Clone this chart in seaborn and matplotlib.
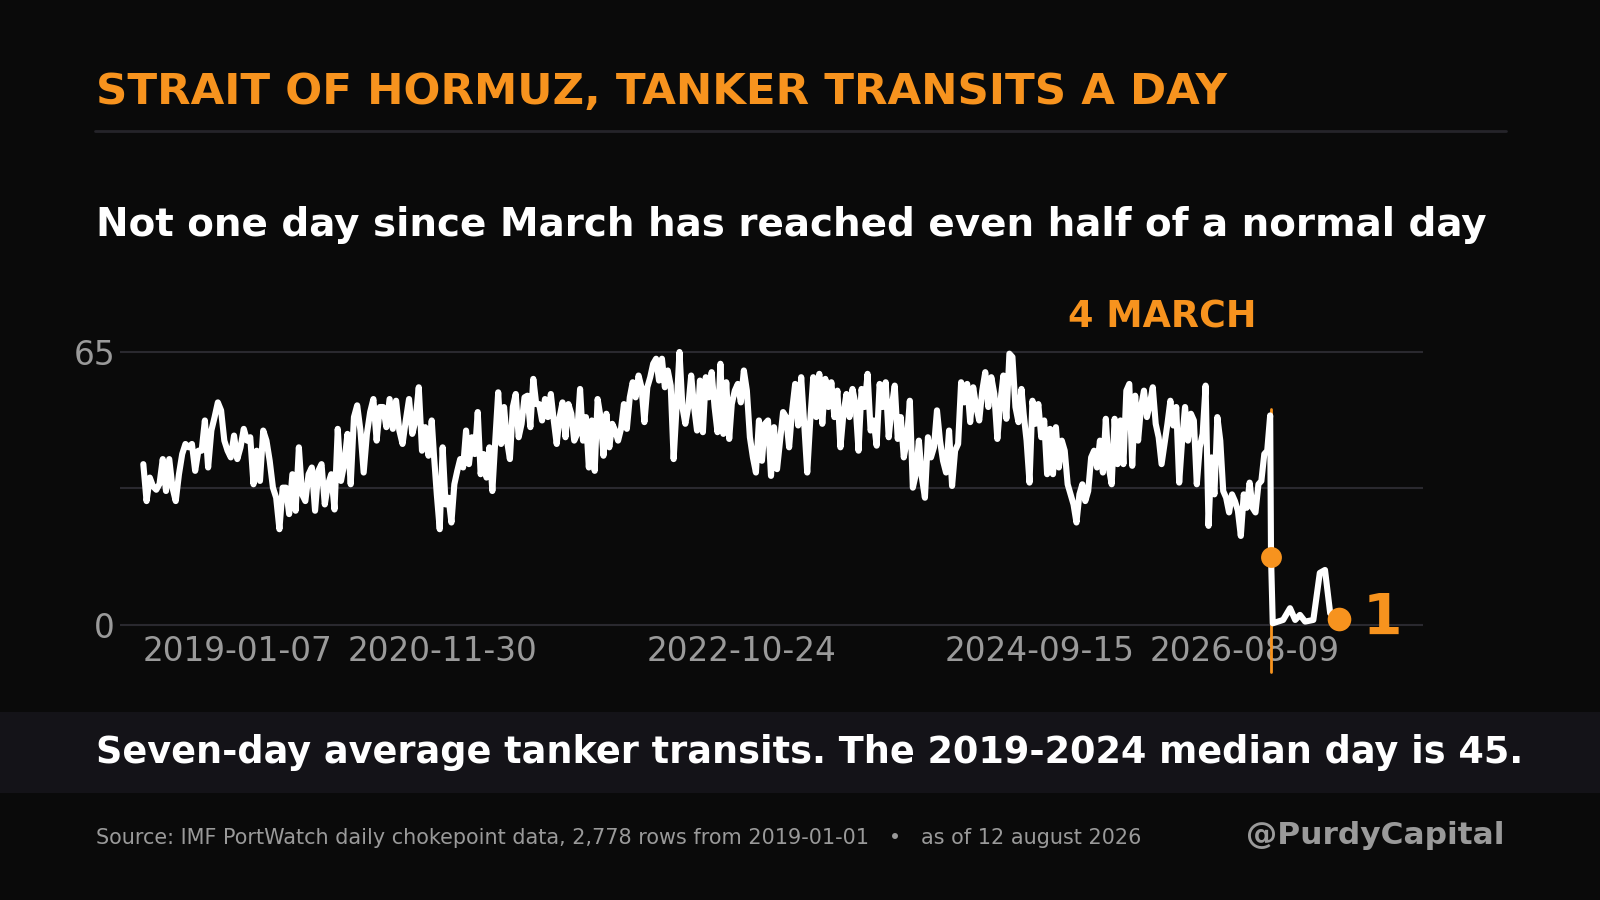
import matplotlib
matplotlib.use("Agg")
import matplotlib.pyplot as plt
from matplotlib.lines import Line2D
from matplotlib.patches import Rectangle
import numpy as np
import pandas as pd
import seaborn as sns

# ---------------- text ----------------
TITLE = "STRAIT OF HORMUZ, TANKER TRANSITS A DAY"
SUBTITLE = "Not one day since March has reached even half of a normal day"
NOTE = "Seven-day average tanker transits. The 2019-2024 median day is 45."
SOURCE = ("Source: IMF PortWatch daily chokepoint data, 2,778 rows from 2019-01-01"
          "   \u2022   as of 12 august 2026")
HANDLE = "@PurdyCapital"
EVENT_LABEL = "4 MARCH"
LAST_LABEL = "1"

# ---------------- data ----------------
# four stretches of the seven-day average, each sampled about weekly
segment_starts = ["2019-01-08", "2020-11-11", "2022-10-02", "2024-08-08"]
segment_ends = ["2020-11-06", "2022-09-26", "2024-08-03", "2026-03-02"]

values_2019_2020 = [38.3, 29.5, 35.1, 33.0, 32.2, 33.6, 39.5, 31.9, 39.5, 32.7, 29.5, 35.9,
                    40.7, 43.1, 42.3, 43.1, 36.7, 41.5, 41.5, 48.7, 37.5, 46.3, 49.5, 53.0,
                    51.1, 43.9, 41.5, 39.9, 45.1, 39.5, 42.3, 46.7, 43.9, 44.7, 33.5, 41.5,
                    34.3, 46.3, 43.9, 39.1, 32.7, 30.3, 22.8, 32.7, 32.7, 26.4, 35.9, 27.2,
                    42.3, 31.1, 29.5, 35.9, 37.5, 27.2, 36.7, 38.3, 28.7, 33.5, 35.9, 27.5,
                    46.7, 34.3, 38.3, 45.5, 33.5, 49.5, 52.3, 46.3, 36.3, 45.5, 50.7, 53.8,
                    43.9, 51.9, 51.9, 47.1, 53.8, 46.7, 53.4, 46.3, 43.1, 48.7, 53.8, 45.5,
                    48.7, 56.6, 41.5, 47.1, 40.3, 48.7]
values_2020_2022 = [40.7, 31.1, 22.8, 42.3, 28.7, 30.3, 24.4, 33.5, 36.7, 39.5, 37.5, 46.3,
                    38.3, 44.7, 40.7, 50.7, 35.9, 40.7, 35.1, 42.3, 31.9, 43.9, 55.4, 43.1,
                    51.9, 43.9, 39.5, 51.9, 55.0, 44.7, 47.9, 54.2, 54.6, 47.1, 58.6, 52.6,
                    52.6, 48.7, 53.8, 49.5, 55.0, 48.7, 43.1, 49.5, 53.0, 44.7, 52.6, 50.3,
                    43.9, 45.5, 56.2, 43.9, 49.5, 37.5, 48.7, 36.7, 53.8, 49.5, 40.3, 50.3,
                    42.3, 47.9, 46.3, 43.9, 46.7, 52.6, 46.7, 54.2, 57.8, 54.2, 59.4, 56.6,
                    48.3, 56.6, 59.0, 62.2, 63.4, 58.2, 63.4, 56.6, 60.6, 57.0, 39.5, 51.9,
                    65.0, 51.9, 47.9, 51.9, 59.4, 51.9, 46.3, 58.2, 45.9, 59.0, 54.2, 60.2,
                    51.9, 45.9, 62.2, 45.5, 57.8, 44.3]
values_2022_2024 = [52.6, 55.8, 57.4, 53.0, 60.6, 55.8, 44.7, 39.9, 36.3, 48.7, 39.1, 47.9,
                    48.7, 35.5, 47.1, 37.1, 43.9, 50.7, 49.5, 42.3, 51.1, 57.4, 47.5, 59.0,
                    47.9, 36.3, 48.7, 59.0, 49.5, 59.8, 47.9, 58.6, 51.9, 57.8, 49.5, 55.8,
                    42.3, 50.3, 55.0, 49.5, 56.2, 52.6, 41.5, 56.2, 51.9, 59.8, 46.3, 48.7,
                    42.7, 57.4, 51.9, 57.8, 44.7, 51.9, 57.0, 44.3, 49.5, 39.9, 43.9, 53.4,
                    32.7, 35.9, 43.9, 35.1, 30.3, 44.7, 39.9, 42.3, 51.1, 43.9, 39.1, 36.3,
                    46.3, 33.1, 41.5, 43.1, 57.8, 53.0, 57.4, 48.3, 56.6, 51.9, 48.7, 55.8,
                    60.2, 51.9, 59.0, 55.0, 44.3, 53.0, 59.4, 49.1, 64.6, 63.8, 51.9, 48.3,
                    56.2]
values_2024_2026 = [50.3, 43.9, 33.9, 53.4, 47.9, 52.6, 44.7, 48.7, 35.9, 46.7, 35.9, 47.1,
                    37.5, 43.9, 41.5, 33.5, 31.1, 28.7, 24.4, 31.1, 33.5, 29.5, 31.9, 39.9,
                    41.5, 37.5, 43.9, 36.3, 49.1, 37.5, 33.5, 49.1, 38.3, 48.7, 38.3, 55.8,
                    57.4, 37.9, 54.6, 43.9, 51.9, 55.8, 49.5, 52.6, 56.6, 47.9, 44.7, 38.3,
                    43.1, 47.9, 53.4, 47.5, 51.9, 33.9, 43.9, 51.9, 43.9, 50.3, 48.7, 33.5,
                    42.3, 45.5, 57.0, 23.6, 39.9, 31.1, 49.5, 43.9, 31.9, 30.3, 26.8, 31.1,
                    29.5, 27.2, 21.2, 31.1, 27.9, 33.9, 27.9, 26.8, 33.5, 34.3, 40.7, 41.5,
                    49.9]

tail_dates = ["2026-03-04", "2026-03-08", "2026-04-01", "2026-04-17", "2026-04-29",
              "2026-05-10", "2026-05-22", "2026-06-10", "2026-06-25", "2026-07-07",
              "2026-07-19", "2026-08-09"]
tail_values = [16.2, 0.4, 1.2, 4.0, 1.2, 2.4, 0.8, 1.2, 12.4, 13.1, 2.8, 1.4]

event_date = "2026-03-04"
event_value = 16.2
event_line_top = 51.5
event_line_bottom = -11.1
last_date = "2026-08-09"
last_value = 1.4

tick_dates = ["2019-01-07", "2020-11-30", "2022-10-24", "2024-09-15", "2026-08-09"]
y_ticks = [0, 32.5, 65]
y_tick_labels = ["0", "", "65"]

# ---------------- build frame ----------------
segments = [values_2019_2020, values_2020_2022, values_2022_2024, values_2024_2026]
all_dates, all_values = [], []
for s0, s1, vals in zip(segment_starts, segment_ends, segments):
    all_dates += list(pd.date_range(s0, s1, periods=len(vals)))
    all_values += vals
all_dates += list(pd.to_datetime(tail_dates))
all_values += tail_values
df = pd.DataFrame({"date": all_dates, "value": all_values})

# ---------------- style ----------------
BG = "#0a0a0a"
BAND = "#141318"
GRID = "#2a292f"
SEP = "#25242a"
ORANGE = "#f7931e"
GREY = "#9a9a9a"
WHITE = "#ffffff"

sns.set_theme(style="dark")
plt.rcParams["font.family"] = ["DejaVu Sans"]

W, H = 1600, 900
fig = plt.figure(figsize=(16, 9), dpi=100, facecolor=BG)

ax_left, ax_right = 120, 1423
ax_top, ax_bottom = 339.4, 627.5
ax = fig.add_axes([ax_left / W, 1 - ax_bottom / H,
                   (ax_right - ax_left) / W, (ax_bottom - ax_top) / H])
ax.set_facecolor(BG)

ax.plot(pd.to_datetime([event_date, event_date]), [event_line_bottom, event_line_top],
        color=ORANGE, lw=2, clip_on=False, zorder=1, solid_capstyle="butt")

sns.lineplot(data=df, x="date", y="value", ax=ax, color=WHITE, lw=4.4,
             estimator=None, sort=True, zorder=2)
for l in ax.lines:
    l.set_solid_joinstyle("round")
    l.set_solid_capstyle("round")

ax.plot(pd.to_datetime([event_date]), [event_value], "o", color=ORANGE, ms=15,
        mec="none", zorder=4, clip_on=False)
ax.plot(pd.to_datetime([last_date]), [last_value], "o", color=ORANGE, ms=17,
        mec="none", zorder=4, clip_on=False)
ax.annotate(LAST_LABEL, (pd.Timestamp(last_date), last_value), xytext=(17, -11.5),
            textcoords="offset points", ha="left", va="baseline", fontsize=41,
            fontweight="bold", color=ORANGE, annotation_clip=False)

ax.set_xlim(pd.Timestamp("2018-11-15"), pd.Timestamp("2027-02-19"))
ax.set_ylim(-0.6, 68)
ax.set_yticks(y_ticks)
ax.set_yticklabels(y_tick_labels)
ax.set_xticks(pd.to_datetime(tick_dates))
ax.set_xticklabels(tick_dates)
ax.set_xlabel("")
ax.set_ylabel("")
ax.grid(False)
ax.yaxis.grid(True, color=GRID, lw=1.5)
ax.set_axisbelow(True)
for s in ax.spines.values():
    s.set_visible(False)
ax.tick_params(axis="both", length=0, labelsize=23.6, colors=GREY)
ax.tick_params(axis="x", pad=5.4)
ax.tick_params(axis="y", pad=3.6)
xl = ax.get_xticklabels()
xl[0].set_ha("left")
xl[-1].set_ha("right")

# ---------------- figure texts ----------------
X0 = 96 / W
fig.text(X0, 1 - 104.3 / H, TITLE, fontsize=31.3, fontweight="bold",
         color=ORANGE, va="baseline")
fig.add_artist(Line2D([95 / W, 1506 / W], [1 - 131.3 / H] * 2, color=SEP, lw=2))
fig.text(X0, 1 - 235.7 / H, SUBTITLE, fontsize=27.97, fontweight="bold",
         color=WHITE, va="baseline")
fig.text(1257 / W, 1 - 328 / H, EVENT_LABEL, fontsize=26.3, fontweight="bold",
         color=ORANGE, va="baseline", ha="right")
fig.add_artist(Rectangle((0, 1 - 793 / H), 1, 81 / H, transform=fig.transFigure,
                         facecolor=BAND, edgecolor="none", zorder=0))
fig.text(X0, 1 - 762.7 / H, NOTE, fontsize=26.4, fontweight="bold",
         color=WHITE, va="baseline")
fig.text(X0, 1 - 844 / H, SOURCE, fontsize=14.94, color=GREY, va="baseline")
fig.text(1505 / W, 1 - 844 / H, HANDLE, fontsize=22.5, fontweight="bold",
         color=GREY, va="baseline", ha="right")

fig.savefig("out.png", dpi=100, facecolor=BG)
